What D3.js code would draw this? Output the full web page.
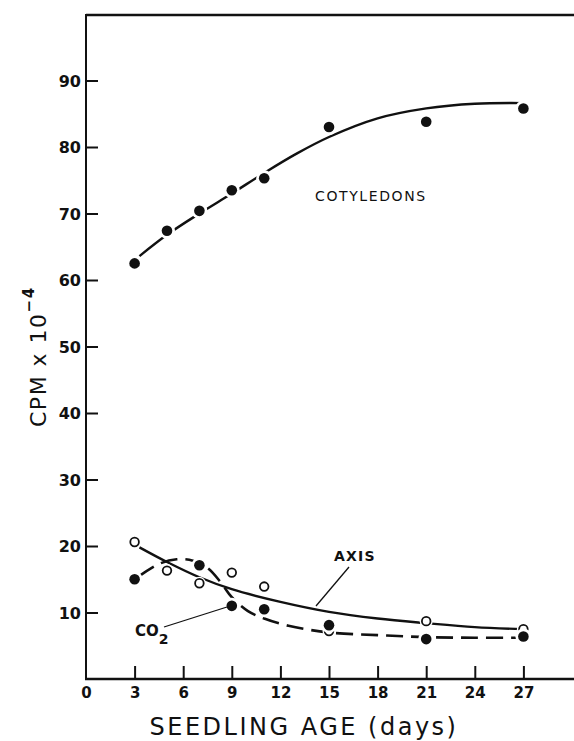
<!DOCTYPE html>
<html>
<head>
<meta charset="utf-8">
<script src="https://cdn.jsdelivr.net/npm/d3@7"></script>
<style>
  body { margin: 0; background: #fff; }
  svg { display: block; }
  text { font-family: "DejaVu Sans", sans-serif; fill: #111; }
</style>
</head>
<body>
<svg id="chart" width="574" height="741"></svg>
<script>
// seedling age (days) at which samples were taken
var days = [3, 5, 7, 9, 11, 15, 21, 27];
var cotyledons = [62.5, 67.4, 70.4, 73.5, 75.3, 83.0, 83.8, 85.8];
var axisPts = [20.6, 16.3, 14.4, 16.0, 13.9, 7.2, 8.7, 7.5];
var co2Days = [3, 7, 9, 11, 15, 21, 27];
var co2 = [15.0, 17.1, 11.0, 10.5, 8.1, 6.0, 6.4];

// hand drawn fitted curves
var cotyCurveX = [3.3, 5, 7, 9, 11, 13, 15, 18, 21, 24, 27];
var cotyCurveY = [63.6, 66.8, 70.0, 73.0, 76.1, 79.0, 81.5, 84.3, 85.8, 86.5, 86.6];
var axisCurveX = [3.3, 5, 7, 9, 12, 15, 18, 21, 24, 27];
var axisCurveY = [19.8, 17.6, 15.3, 13.5, 11.6, 10.1, 9.1, 8.4, 7.8, 7.5];
var co2CurveX = [3.3, 4.5, 5.6, 6.6, 7.5, 8.3, 9, 10, 11, 12.5, 15, 18, 21, 24, 27];
var co2CurveY = [15.5, 17.3, 18.0, 17.8, 16.7, 14.6, 12.3, 10.2, 9.1, 8.0, 7.0, 6.6, 6.3, 6.2, 6.2];

var xTicks = [0, 3, 6, 9, 12, 15, 18, 21, 24, 27];
var yTicks = [10, 20, 30, 40, 50, 60, 70, 80, 90];

var svg = d3.select("#chart");
var x = d3.scaleLinear().domain([0, 30]).range([86, 572]);
var y = d3.scaleLinear().domain([0, 100]).range([679, 14]);

// frame: left axis, bottom axis, top rule
svg.append("line").attr("x1", 86).attr("x2", 574).attr("y1", 15).attr("y2", 15)
    .attr("stroke", "#111").attr("stroke-width", 2.6);
svg.append("line").attr("x1", 86).attr("x2", 86).attr("y1", 14).attr("y2", 680)
    .attr("stroke", "#111").attr("stroke-width", 2);
svg.append("line").attr("x1", 85).attr("x2", 574).attr("y1", 679).attr("y2", 679)
    .attr("stroke", "#111").attr("stroke-width", 2.4);

var yAxis = svg.append("g")
    .attr("transform", "translate(86,0)")
    .call(d3.axisLeft(y).tickValues(yTicks).tickSize(-12).tickPadding(5));
yAxis.select(".domain").remove();
yAxis.selectAll("line").attr("stroke", "#111").attr("stroke-width", 2);
yAxis.selectAll("text").attr("font-size", 16).attr("font-family", "DejaVu Sans")
    .attr("font-weight", "bold").attr("dy", "0.36em");

var xAxis = svg.append("g")
    .attr("transform", "translate(0,679)")
    .call(d3.axisBottom(x).tickValues(xTicks).tickSize(-13).tickPadding(8));
xAxis.select(".domain").remove();
xAxis.selectAll("line").attr("stroke", "#111").attr("stroke-width", 2)
    .filter(function(d){ return d === 0; }).remove();
xAxis.selectAll("text").attr("font-size", 15).attr("font-family", "DejaVu Sans")
    .attr("font-weight", "bold");

var line = d3.line()
    .x(function(d){ return x(d[0]); })
    .y(function(d){ return y(d[1]); })
    .curve(d3.curveCatmullRom.alpha(0.5));

svg.append("path")
    .attr("d", line(d3.zip(cotyCurveX, cotyCurveY)))
    .attr("fill", "none").attr("stroke", "#111").attr("stroke-width", 2.4);
svg.append("path")
    .attr("d", line(d3.zip(axisCurveX, axisCurveY)))
    .attr("fill", "none").attr("stroke", "#111").attr("stroke-width", 2.4);
svg.append("path")
    .attr("d", line(d3.zip(co2CurveX, co2CurveY)))
    .attr("fill", "none").attr("stroke", "#111").attr("stroke-width", 2.6)
    .attr("stroke-dasharray", "17,8");

// markers, with a white halo that breaks the curve like the drawn figure
function dots(xs, ys, open) {
    svg.append("g").selectAll("circle")
        .data(d3.zip(xs, ys))
        .join("circle")
        .attr("cx", function(d){ return x(d[0]); })
        .attr("cy", function(d){ return y(d[1]); })
        .attr("r", open ? 6.5 : 8)
        .attr("fill", "#fff");
    svg.append("g").selectAll("circle")
        .data(d3.zip(xs, ys))
        .join("circle")
        .attr("cx", function(d){ return x(d[0]); })
        .attr("cy", function(d){ return y(d[1]); })
        .attr("r", open ? 4.3 : 5.3)
        .attr("fill", open ? "#fff" : "#111")
        .attr("stroke", "#111")
        .attr("stroke-width", open ? 1.8 : 0);
}
dots(days, cotyledons, false);
dots(days, axisPts, true);
dots(co2Days, co2, false);

// curve labels and leaders
svg.append("text").attr("x", 315).attr("y", 201)
    .attr("font-size", 14).attr("letter-spacing", 1.6)
    .text("COTYLEDONS");
svg.append("text").attr("x", 334).attr("y", 561)
    .attr("font-size", 14).attr("font-weight", "bold").attr("letter-spacing", 1.2)
    .text("AXIS");
svg.append("line").attr("x1", 349).attr("y1", 567).attr("x2", 316).attr("y2", 606)
    .attr("stroke", "#111").attr("stroke-width", 1.3);
var co2Label = svg.append("text").attr("x", 135).attr("y", 636)
    .attr("font-size", 15).attr("font-weight", "bold");
co2Label.append("tspan").text("CO");
co2Label.append("tspan").attr("dy", 8).attr("font-size", 14).text("2");
svg.append("line").attr("x1", 164).attr("y1", 627).attr("x2", 227).attr("y2", 607)
    .attr("stroke", "#111").attr("stroke-width", 1.3);

// axis titles
svg.append("text").attr("x", 304).attr("y", 735)
    .attr("text-anchor", "middle").attr("font-size", 24).attr("letter-spacing", 2.5)
    .text("SEEDLING  AGE  (days)");
var yTitle = svg.append("text")
    .attr("transform", "translate(46,427) rotate(-90)")
    .attr("font-size", 22).attr("letter-spacing", 1.5);
yTitle.append("tspan").text("CPM  x 10");
yTitle.append("tspan").attr("dy", -12).attr("font-size", 15).attr("font-weight", "bold").text("\u22124");
</script>
</body>
</html>
